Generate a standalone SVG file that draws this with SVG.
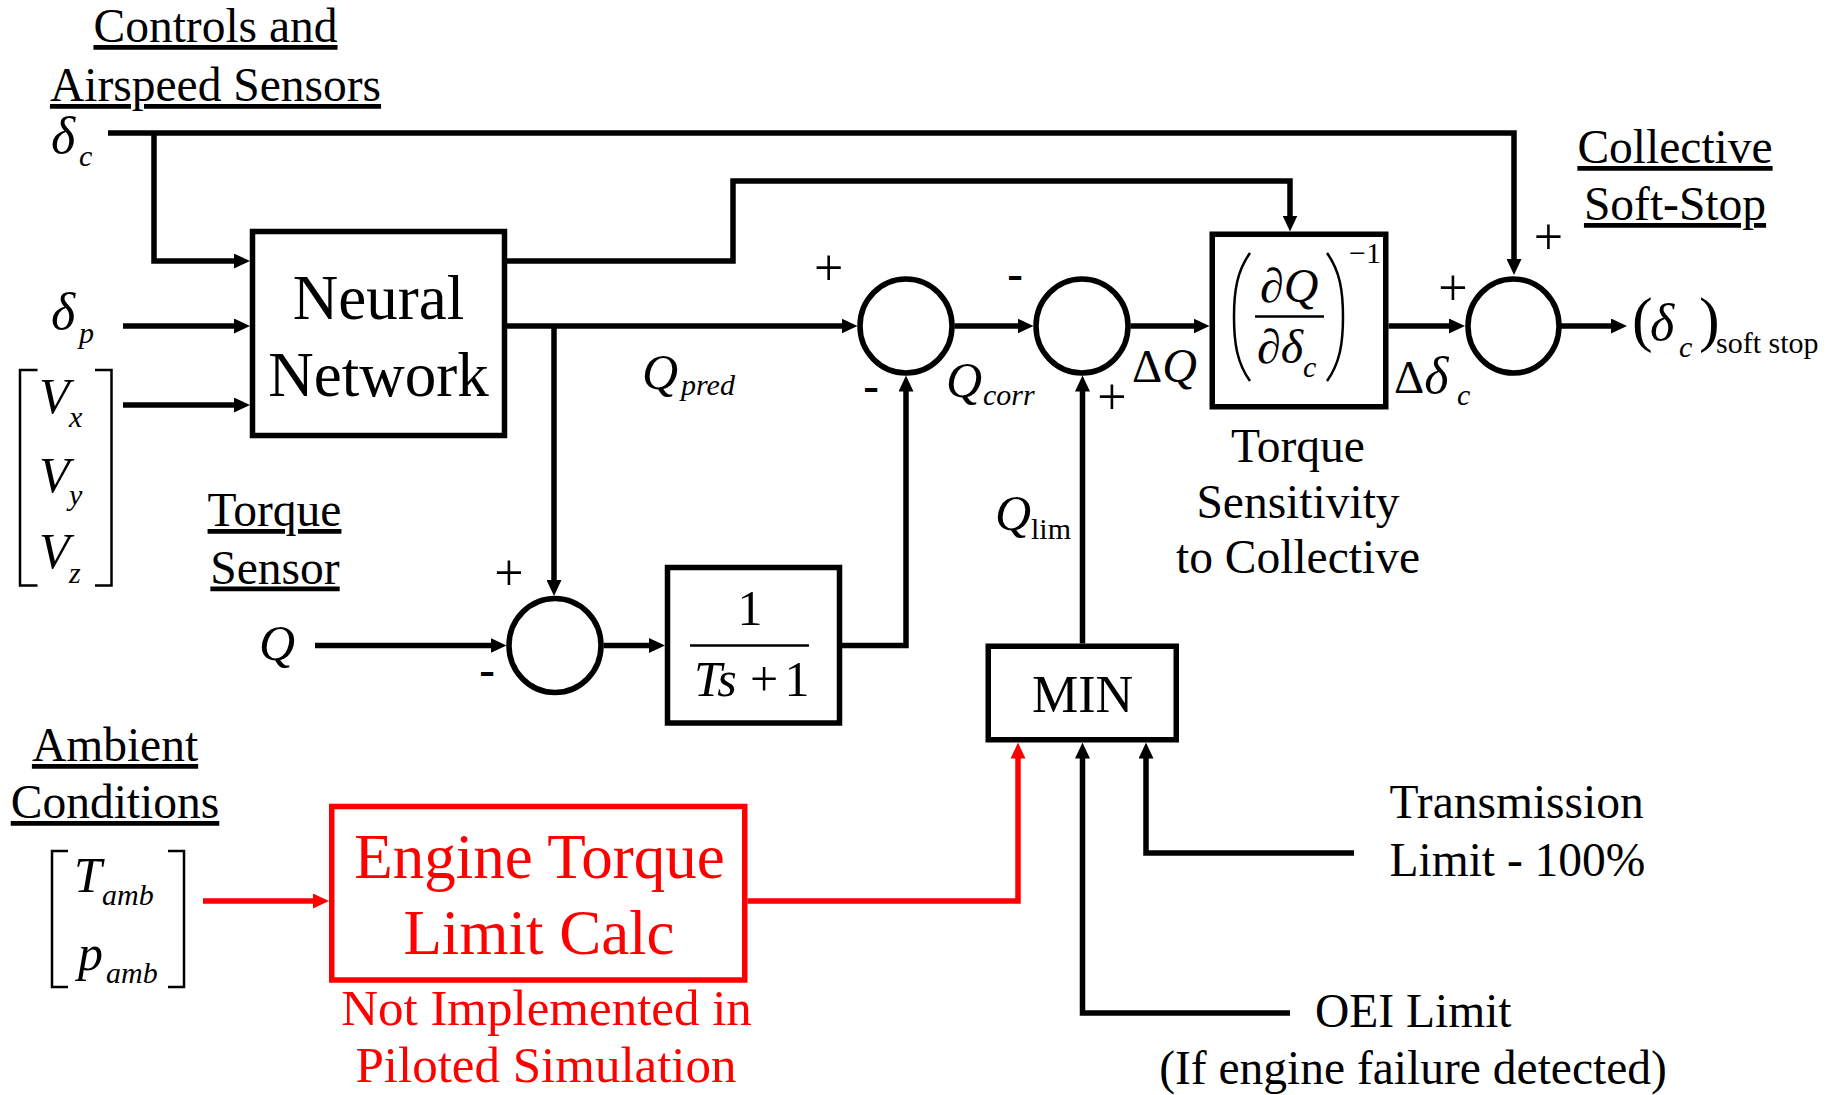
<svg xmlns="http://www.w3.org/2000/svg" width="1837" height="1095" viewBox="0 0 1837 1095">
<style>
.ln{fill:none;stroke:#000;stroke-width:5.5}
.rl{fill:none;stroke:#f00;stroke-width:5.5}
.box{fill:#fff;stroke:#000;stroke-width:5.5}
.rbox{fill:#fff;stroke:#f00;stroke-width:5.5}
.thin{fill:none;stroke:#000;stroke-width:2.5}
text{font-family:"Liberation Serif","Times New Roman",serif;fill:#000}
.lbl{font-size:47.5px}
.u{text-decoration:underline}
.i{font-style:italic}
.m{font-size:50px}
.sub{font-size:30px}
.big{font-size:63px}
.sg{font-size:52px}
.mn{font-size:47px;font-weight:bold}
.rt{fill:#f00}
</style>
<defs>
<marker id="ah" viewBox="0 0 16 15" markerWidth="16" markerHeight="15" refX="6" refY="7.5" orient="auto" markerUnits="userSpaceOnUse"><path d="M0,0 L16,7.5 L0,15 z" fill="#000"/></marker>
<marker id="ahr" viewBox="0 0 16 15" markerWidth="16" markerHeight="15" refX="6" refY="7.5" orient="auto" markerUnits="userSpaceOnUse"><path d="M0,0 L16,7.5 L0,15 z" fill="#f00"/></marker>
</defs>
<rect width="1837" height="1095" fill="#fff"/>

<g id="connectors">
<path class="ln" d="M108,133 H1514 V265" marker-end="url(#ah)"/>
<path class="ln" d="M154,133 V261 H240" marker-end="url(#ah)"/>
<path class="ln" d="M123,326 H240" marker-end="url(#ah)"/>
<path class="ln" d="M123,405 H240" marker-end="url(#ah)"/>
<path class="ln" d="M507,261 H733 V181 H1290 V221.5" marker-end="url(#ah)"/>
<path class="ln" d="M507,326 H847.5" marker-end="url(#ah)"/>
<path class="ln" d="M554,326 V586" marker-end="url(#ah)"/>
<path class="ln" d="M315,645.5 H496.5" marker-end="url(#ah)"/>
<path class="ln" d="M603.5,645.5 H655" marker-end="url(#ah)"/>
<path class="ln" d="M842,645.5 H906 V385.5" marker-end="url(#ah)"/>
<path class="ln" d="M954.5,326 H1023.5" marker-end="url(#ah)"/>
<path class="ln" d="M1130.5,326 H1199.5" marker-end="url(#ah)"/>
<path class="ln" d="M1388.5,326 H1455" marker-end="url(#ah)"/>
<path class="ln" d="M1561,326 H1617" marker-end="url(#ah)"/>
<path class="ln" d="M1082.5,643.6 V385.5" marker-end="url(#ah)"/>
<path class="rl" d="M203,901 H319" marker-end="url(#ahr)"/>
<path class="rl" d="M747.5,901 H1018 V752.6" marker-end="url(#ahr)"/>
<path class="ln" d="M1290,1013 H1082.5 V752.6" marker-end="url(#ah)"/>
<path class="ln" d="M1354,853 H1146 V752.6" marker-end="url(#ah)"/>
</g>

<g id="inputs-controls">
<text class="lbl u" x="215.5" y="42" text-anchor="middle">Controls and</text>
<text class="lbl u" x="215.5" y="101" text-anchor="middle">Airspeed Sensors</text>
<text class="i" x="51" y="153" font-size="52">δ</text>
<text class="i sub" x="79" y="166">c</text>
<text class="i" x="51" y="329" font-size="52">δ</text>
<text class="i sub" x="79" y="343">p</text>
<path class="thin" d="M37.5,370 H20 V585.5 H37.5 M95,370 H111.5 V585.5 H95"/>
<text class="i m" x="39" y="413">V</text>
<text class="i sub" x="69" y="427">x</text>
<text class="i m" x="39" y="492">V</text>
<text class="i sub" x="69" y="505">y</text>
<text class="i m" x="39" y="568">V</text>
<text class="i sub" x="69" y="583">z</text>
</g>

<g id="neural-network">
<rect class="box" x="252.5" y="231.5" width="252" height="204"/>
<text class="big" x="378.5" y="319" text-anchor="middle">Neural</text>
<text class="big" x="378.5" y="395.5" text-anchor="middle">Network</text>
</g>

<g id="torque-sensor">
<text class="lbl u" x="274.5" y="526" text-anchor="middle">Torque</text>
<text class="lbl u" x="275" y="583.5" text-anchor="middle">Sensor</text>
<text class="i m" x="259" y="660">Q</text>
</g>

<g id="sum-filter">
<ellipse class="ln" cx="555" cy="645.5" rx="46" ry="47"/>
<text class="sg" x="509" y="590" text-anchor="middle">+</text>
<text class="mn" x="487" y="685" text-anchor="middle">-</text>
</g>

<g id="filter">
<rect class="box" x="667.5" y="567.5" width="172" height="155.5"/>
<text class="m" x="750" y="625" text-anchor="middle">1</text>
<line class="thin" x1="690" y1="645.5" x2="809" y2="645.5"/>
<text class="i m" x="694" y="695.5">Ts</text>
<text class="m" x="764" y="695.5" text-anchor="middle">+</text>
<text class="m" x="797" y="695.5" text-anchor="middle">1</text>
</g>

<g id="qpred-label">
<text class="i m" x="642" y="389">Q</text>
<text class="i sub" x="681" y="395">pred</text>
</g>

<g id="sum-corr">
<ellipse class="ln" cx="906" cy="326" rx="46" ry="47"/>
<text class="sg" x="828.6" y="285" text-anchor="middle">+</text>
<text class="mn" x="871" y="401" text-anchor="middle">-</text>
<text class="i m" x="946" y="396.5">Q</text>
<text class="i sub" x="983" y="405">corr</text>
</g>

<g id="sum-delta">
<ellipse class="ln" cx="1082" cy="326" rx="46" ry="47"/>
<text class="mn" x="1015" y="289" text-anchor="middle">-</text>
<text class="sg" x="1112" y="414" text-anchor="middle">+</text>
<text x="1132" y="382" font-size="47">Δ<tspan class="i" font-size="48">Q</tspan></text>
<text class="i m" x="995" y="530">Q</text>
<text class="sub" x="1031" y="539">lim</text>
</g>

<g id="torque-sensitivity">
<rect class="box" x="1212.25" y="234.25" width="173.5" height="172.5"/>
<path class="thin" d="M1250,253 C1237,271 1234,291 1234,317 C1234,343 1237,363 1250,381"/>
<path class="thin" d="M1327,253 C1340,271 1343,291 1343,317 C1343,343 1340,363 1327,381"/>
<text x="1260" y="301.5" font-size="48">∂<tspan class="i">Q</tspan></text>
<line class="thin" x1="1255" y1="316.5" x2="1324" y2="316.5"/>
<text x="1257" y="363" font-size="48">∂<tspan class="i">δ</tspan></text>
<text class="i sub" x="1303" y="376.5">c</text>
<text class="sub" x="1349" y="263">−1</text>
<text class="lbl" x="1298" y="461.5" text-anchor="middle">Torque</text>
<text class="lbl" x="1298" y="518" text-anchor="middle">Sensitivity</text>
<text class="lbl" x="1298" y="573" text-anchor="middle">to Collective</text>
</g>

<g id="delta-dc-label">
<text x="1394" y="393" font-size="47">Δ<tspan class="i" font-size="52">δ</tspan></text>
<text class="i sub" x="1457" y="405">c</text>
</g>

<g id="soft-stop-sum">
<ellipse class="ln" cx="1513.5" cy="326" rx="45.5" ry="47"/>
<text class="sg" x="1548.5" y="254" text-anchor="middle">+</text>
<text class="sg" x="1453" y="305" text-anchor="middle">+</text>
<text class="lbl u" x="1675" y="163" text-anchor="middle">Collective</text>
<text class="lbl u" x="1675" y="220" text-anchor="middle">Soft-Stop</text>
</g>

<g id="output">
<text x="1632" y="340" font-size="62">(</text>
<text class="i" x="1650" y="340" font-size="52">δ</text>
<text class="i sub" x="1679" y="356.5">c</text>
<text x="1699" y="340" font-size="62">)</text>
<text class="sub" x="1716" y="353">soft stop</text>
</g>

<g id="min">
<rect class="box" x="988.25" y="646.25" width="188" height="93.5"/>
<text x="1082.5" y="712" text-anchor="middle" font-size="52">MIN</text>
</g>

<g id="transmission-limit">
<text class="lbl" x="1389.5" y="817.5">Transmission</text>
<text class="lbl" x="1389.5" y="875.5">Limit - 100%</text>
</g>

<g id="oei-limit">
<text class="lbl" x="1315" y="1027">OEI Limit</text>
<text class="lbl" x="1413" y="1084" text-anchor="middle">(If engine failure detected)</text>
</g>

<g id="ambient">
<text class="lbl u" x="115" y="761" text-anchor="middle">Ambient</text>
<text class="lbl u" x="115" y="818" text-anchor="middle">Conditions</text>
<path class="thin" d="M68,851 H52 V987 H68 M168,851 H184 V987 H168"/>
<text class="i m" x="74" y="892">T</text>
<text class="i sub" x="102" y="904.5">amb</text>
<text class="i m" x="78" y="970">p</text>
<text class="i sub" x="106" y="982.5">amb</text>
</g>

<g id="engine-torque-limit">
<rect class="rbox" x="331.75" y="806.5" width="413" height="173.5"/>
<text class="big rt" x="539.5" y="878" text-anchor="middle">Engine Torque</text>
<text class="big rt" x="539" y="954" text-anchor="middle">Limit Calc</text>
<text class="rt" x="546.5" y="1025" text-anchor="middle" font-size="51">Not Implemented in</text>
<text class="rt" x="546" y="1082" text-anchor="middle" font-size="51">Piloted Simulation</text>
</g>
</svg>
